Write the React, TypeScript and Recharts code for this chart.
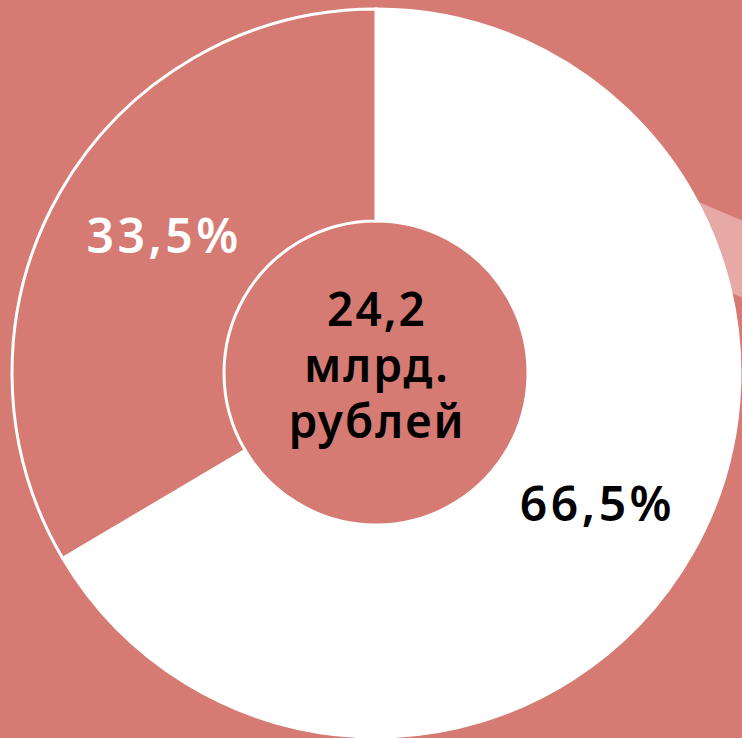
import React from 'react';
import { PieChart, Pie, Cell, Label, Customized } from 'recharts';

const categories = ['Доля A', 'Доля B'];
const shares = [66.5, 33.5];
const sliceColors = ['#FFFFFF', '#D57B73'];
const labelColors = ['#000000', '#FFFFFF'];
const centerLines = ['24,2', 'млрд.', 'рублей'];

const BG = '#D57B73';
const BAND = '#E6A9A5';
const FONT = '"Noto Sans", "Open Sans", sans-serif';

const data = categories.map((name, i) => ({ name, value: shares[i] }));

const RAD = Math.PI / 180;
const labelAngleShift = [-0.9, -3.3];

const renderLabel = (props: any) => {
  const { cx, cy, midAngle, innerRadius, outerRadius, index, value } = props;
  const r = (innerRadius + outerRadius) / 2 - 3;
  const a = midAngle + labelAngleShift[index];
  const x = cx + r * Math.cos(-a * RAD);
  const y = cy + r * Math.sin(-a * RAD);
  return (
    <text
      x={x + 2}
      y={y}
      fill={labelColors[index]}
      textAnchor="middle"
      dominantBaseline="central"
      fontFamily={FONT}
      fontWeight={600}
      fontSize={48}
      letterSpacing={3.5}
    >
      {Number(value).toFixed(1).replace('.', ',') + '%'}
    </text>
  );
};

const CenterText = (props: any) => {
  const vb = props.viewBox || {};
  const cx = vb.cx ?? 376;
  const cy = vb.cy ?? 373;
  const lineH = 56;
  return (
    <text
      x={cx}
      y={cy}
      textAnchor="middle"
      fontFamily={FONT}
      fontWeight={600}
      fontSize={46}
      fill="#000"
      letterSpacing={2}
    >
      {centerLines.map((t, i) => (
        <tspan key={i} x={cx + 1} y={cy + (i - 1) * lineH + 9}>
          {t}
        </tspan>
      ))}
    </text>
  );
};

const Band = () => (
  <polygon points="680,194 750,224 750,301 680,271" fill={BAND} />
);

export default function App() {
  return (
    <div style={{ position: 'absolute', left: 0, top: 0, width: 742, height: 738, background: BG, overflow: 'hidden' }}>
      <PieChart width={742} height={738} margin={{ top: 0, right: 0, bottom: 0, left: 0 }}>
        <Customized component={Band} />
        <Pie
          data={data}
          dataKey="value"
          nameKey="name"
          cx={376}
          cy={373}
          innerRadius={152}
          outerRadius={364}
          startAngle={90}
          endAngle={-270}
          stroke="#FFFFFF"
          strokeWidth={3}
          isAnimationActive={false}
          labelLine={false}
          label={renderLabel}
        >
          {data.map((d, i) => (
            <Cell key={d.name} fill={sliceColors[i]} stroke="#FFFFFF" strokeWidth={3} />
          ))}
          <Label position="center" content={<CenterText />} />
        </Pie>
      </PieChart>
    </div>
  );
}
